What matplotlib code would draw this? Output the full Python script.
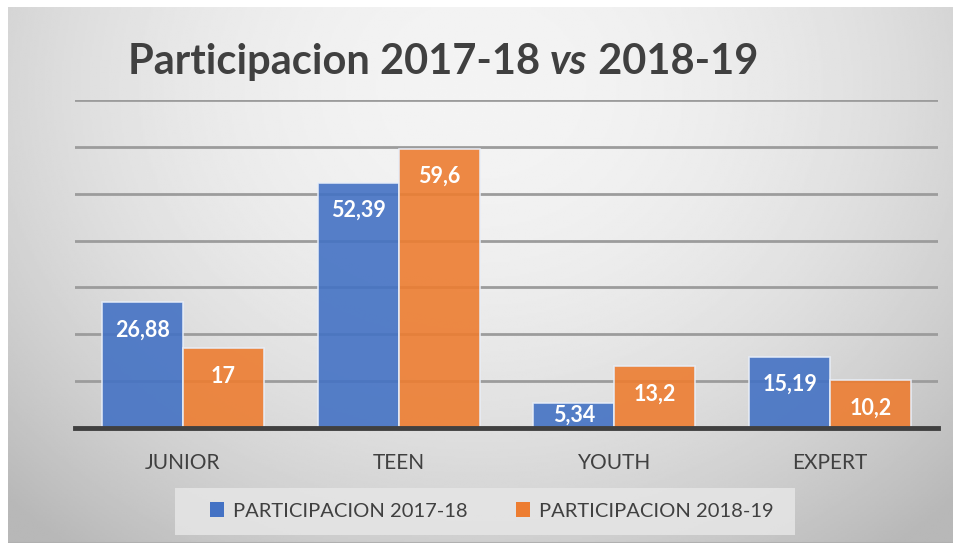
import numpy as np
import matplotlib
matplotlib.use('Agg')
import matplotlib.pyplot as plt
from matplotlib.patches import Patch, Rectangle

categories = ['JUNIOR', 'TEEN', 'YOUTH', 'EXPERT']
serie_1718 = [26.88, 52.39, 5.34, 15.19]
serie_1819 = [17, 59.6, 13.2, 10.2]
series_names = ['PARTICIPACION 2017-18', 'PARTICIPACION 2018-19']
colors = ['#4472C4', '#ED7D31']

W, H = 954, 543
FONT = 'Lato'


def fmt(v):
    # formato con coma decimal
    s = f'{v:g}'
    return s.replace('.', ',')


fig = plt.figure(figsize=(W / 100, H / 100), dpi=100)
fig.patch.set_facecolor('white')

# fondo con degradado radial
bg = fig.add_axes([8 / W, 0, 1 - 8 / W, 1 - 7 / H], zorder=-5)
yy, xx = np.mgrid[0:1:300j, 0:1:500j]
r2 = ((xx - 0.5) / 0.72) ** 2 + ((yy - 0.15) / 1.1) ** 2
grad = 0.955 - 0.24 * r2
grad = np.clip(grad, 0.72, 0.96)
bg.imshow(grad, cmap='gray', vmin=0, vmax=1, aspect='auto', extent=[0, 1, 1, 0])
bg.axhline(1, color='#b0b0b0', lw=1.5)
bg.set_axis_off()

ax = fig.add_axes([75 / W, 1 - 428 / H, (938 - 75) / W, (428 - 100) / H])
ax.set_facecolor('none')
x = np.arange(len(categories))
bw = 0.375
ax.set_ylim(0, 70)
ax.set_xlim(-0.5, len(categories) - 0.5)
ax.set_yticks(np.arange(10, 71, 10))
ax.yaxis.grid(True, color='#9c9c9c', lw=2, zorder=0)
ax.set_axisbelow(True)
ax.tick_params(axis='y', length=0, labelleft=False)
ax.tick_params(axis='x', length=0, pad=18, labelsize=15, labelcolor='#404040')
ax.set_xticks(x)
ax.set_xticklabels(categories, fontfamily=FONT)
for s in ['top', 'right', 'left']:
    ax.spines[s].set_visible(False)
ax.spines['bottom'].set_color('#404040')
ax.spines['bottom'].set_linewidth(3.5)
ax.spines['bottom'].set_zorder(5)

for i, (vals, c) in enumerate(zip([serie_1718, serie_1819], colors)):
    pos = x - bw / 2 + i * bw
    bars = ax.bar(pos, vals, width=bw, color=c, alpha=0.9,
                  edgecolor='#e8eef8', linewidth=1.2, zorder=2)
    for b, v in zip(bars, vals):
        cx = b.get_x() + b.get_width() / 2
        if v < 8:
            ax.text(cx, v / 2, fmt(v), ha='center', va='center', color='white',
                    fontsize=15.5, fontweight='bold', fontfamily=FONT, zorder=4)
        else:
            ax.annotate(fmt(v), (cx, v), xytext=(0, -20), textcoords='offset points',
                        ha='center', va='center', color='white', fontsize=15.5,
                        fontweight='bold', fontfamily=FONT, zorder=4)

# titulo con "vs" en cursiva
renderer = fig.canvas.get_renderer()
tx = 128 / W
ty = 1 - 74 / H
tkw = dict(fontsize=30, fontweight='bold', color='#404040', fontfamily=FONT, va='baseline')
pieces = [('Participacion 2017-18 ', 'normal'), ('vs', 'italic'), (' 2018-19', 'normal')]
for txt, st in pieces:
    t = fig.text(tx, ty, txt, style=st, **tkw)
    bb = t.get_window_extent(renderer)
    tx = bb.x1 / W

# caja de la leyenda
fig.patches.append(Rectangle((175 / W, 1 - 535 / H), 620 / W, 47 / H,
                             transform=fig.transFigure, facecolor='#e6e6e6',
                             edgecolor='none', alpha=0.85, zorder=1))
handles = [Patch(facecolor=c, edgecolor='none') for c in colors]
leg = fig.legend(handles, series_names, loc='center', bbox_to_anchor=(492 / W, 1 - 511 / H),
                 ncol=2, frameon=False, handlelength=0.7, handleheight=0.7,
                 columnspacing=2.4, handletextpad=0.45,
                 prop={'family': FONT, 'size': 14.5})
for t in leg.get_texts():
    t.set_color('#404040')

fig.savefig('out.png', dpi=100)
